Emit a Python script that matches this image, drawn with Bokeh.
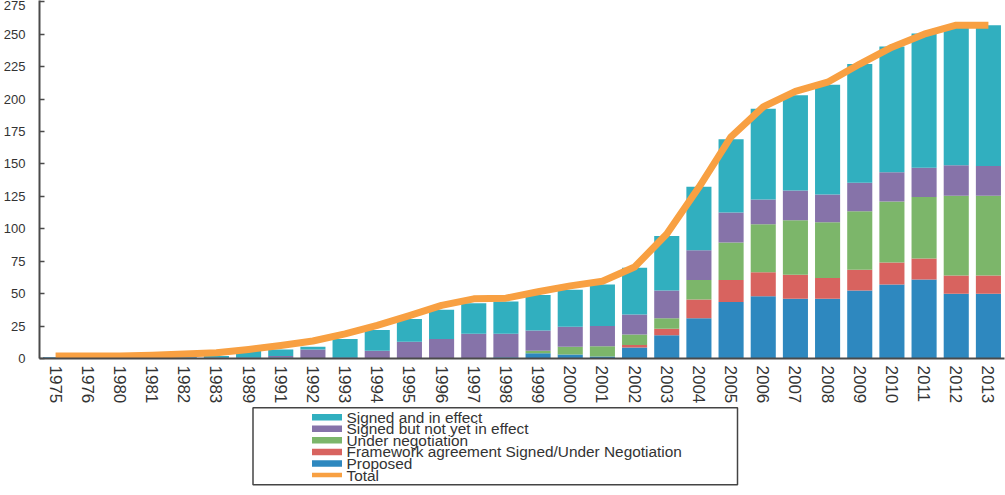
from bokeh.plotting import figure
from bokeh.models import Range1d, FactorRange, ColumnDataSource
from bokeh.layouts import column
from bokeh.embed import file_html
from bokeh.resources import INLINE
from bokeh.core.properties import value

# Agreements by status and year
years = ["1975", "1976", "1980", "1981", "1982", "1983", "1989", "1991", "1992", "1993",
         "1994", "1995", "1996", "1997", "1998", "1999", "2000", "2001", "2002", "2003",
         "2004", "2005", "2006", "2007", "2008", "2009", "2010", "2011", "2012", "2013"]

proposed = [1, 0, 0, 0, 1, 1, 1, 1, 0, 1,
            0, 0, 0, 0, 1, 4, 3, 1.5, 8.5, 18,
            31, 43.5, 48, 46, 46, 52.5, 57, 61, 50, 50]
framework = [0, 0, 0, 0, 0, 0, 0, 0, 0, 0,
             0, 0, 0, 0, 0, 0, 0, 0, 2, 5,
             14.5, 17, 18.5, 18.5, 16, 16, 17, 16, 14, 14]
negotiation = [0, 0, 0, 0, 0, 0, 0, 0, 0, 0,
               0, 0, 0, 0, 0, 2, 6, 8, 8, 8,
               15, 29, 37, 42, 43, 45, 47, 47.5, 61.5, 61.5]
not_in_effect = [0, 0, 0, 0, 0, 0, 0, 1, 7, 0,
                 6, 13, 15, 19, 18, 15.5, 15.5, 15.5, 15.5, 21.5,
                 23, 23, 19, 23, 21.5, 22, 22.5, 22.5, 23.5, 23]
in_effect = [0, 0, 0, 0, 0, 1, 5, 5, 2, 14,
             16, 17.5, 22.5, 23.5, 25, 27.5, 28.5, 32, 36, 42,
             49, 56.5, 70, 73.5, 84.5, 91.5, 97, 103.5, 106.5, 108.5]
total = [2, 2, 2, 2.5, 3.5, 4.5, 7, 10, 13.5, 19,
         25.5, 33, 41, 46, 46.5, 51.5, 56, 59.5, 70.5, 96,
         132, 171, 194, 206, 213, 227, 240, 250, 257, 257]

y_ticks = [0, 25, 50, 75, 100, 125, 150, 175, 200, 225, 250, 275]

# stacking order, bottom to top
stack_keys = ["proposed", "framework", "negotiation", "not_in_effect", "in_effect"]
stack_colors = ["#2E88BF", "#D8635F", "#7CB66A", "#8673A9", "#31AFBF"]
total_color = "#F8A042"

legend_labels = ["Signed and in effect", "Signed but not yet in effect", "Under negotiation",
                 "Framework agreement Signed/Under Negotiation", "Proposed", "Total"]
legend_colors = ["#31AFBF", "#8673A9", "#7CB66A", "#D8635F", "#2E88BF", "#F8A042"]

FONT = "Liberation Sans"
TEXT = "#333333"
AXIS = "#4a4a4a"

WIDTH, LEFT, RIGHT = 1005, 39, 1

src = ColumnDataSource(dict(years=years, proposed=proposed, framework=framework,
                            negotiation=negotiation, not_in_effect=not_in_effect,
                            in_effect=in_effect, total=total))

p = figure(x_range=FactorRange(*years, range_padding=0), y_range=Range1d(0, 276),
           width=WIDTH, height=406, output_backend="svg", toolbar_location=None,
           min_border_left=LEFT, min_border_right=RIGHT, min_border_top=0, min_border_bottom=48)

p.vbar_stack(stack_keys, x="years", width=0.78, color=stack_colors, line_color=None, source=src)
p.line(x="years", y="total", line_width=7, color=total_color, line_join="round", source=src)

p.outline_line_color = None
p.xgrid.grid_line_color = None
p.ygrid.grid_line_color = None

p.yaxis.ticker = y_ticks
p.yaxis.minor_tick_line_color = None
p.yaxis.major_tick_in = 5
p.yaxis.major_tick_out = 0
p.yaxis.major_label_standoff = 14
p.yaxis.axis_line_width = 2
p.yaxis.axis_line_color = AXIS
p.yaxis.major_tick_line_color = AXIS
p.yaxis.major_tick_line_width = 1.5
p.yaxis.major_label_text_font = FONT
p.yaxis.major_label_text_font_size = "13px"
p.yaxis.major_label_text_color = TEXT

p.xaxis.major_label_orientation = "vertical"
p.xaxis.major_tick_line_color = None
p.xaxis.major_tick_in = 0
p.xaxis.major_tick_out = 0
p.xaxis.major_label_standoff = 7
p.xaxis.axis_line_width = 2
p.xaxis.axis_line_color = AXIS
p.xaxis.major_label_text_font = FONT
p.xaxis.major_label_text_font_size = "17px"
p.xaxis.major_label_text_color = TEXT

# Legend panel below the chart; coordinates in this panel are page pixels
LEG_H = 89
leg = figure(width=WIDTH, height=LEG_H, x_range=Range1d(LEFT, WIDTH - RIGHT), y_range=Range1d(LEG_H, 0),
             output_backend="svg", toolbar_location=None,
             min_border_left=LEFT, min_border_right=RIGHT, min_border_top=0, min_border_bottom=0,
             x_axis_location=None, y_axis_location=None)
leg.grid.visible = False
leg.outline_line_color = None

box_left, box_right, box_top, box_bottom = 252.5, 737, 1.3, 78.3
leg.quad(left=box_left, right=box_right, top=box_top, bottom=box_bottom,
         fill_color="white", line_color="#444444", line_width=1.5)

row_top, row_step = 10.7, 11.56
row_y = [row_top + i * row_step for i in range(len(legend_labels))]
sw_h = [6.5] * (len(legend_labels) - 1) + [4.5]
leg_src = ColumnDataSource(dict(y=row_y, label=legend_labels, color=legend_colors, h=sw_h))
leg.rect(x=326.5, y="y", width=30, height="h", width_units="screen", height_units="screen",
         fill_color="color", line_color=None, source=leg_src)
leg.text(x=346, y="y", text="label", text_font=value(FONT), text_font_size="15.4px",
         text_color=TEXT, text_baseline="middle", source=leg_src)

layout = column(p, leg, spacing=0)
open("out.html", "w").write(file_html(layout, INLINE))
